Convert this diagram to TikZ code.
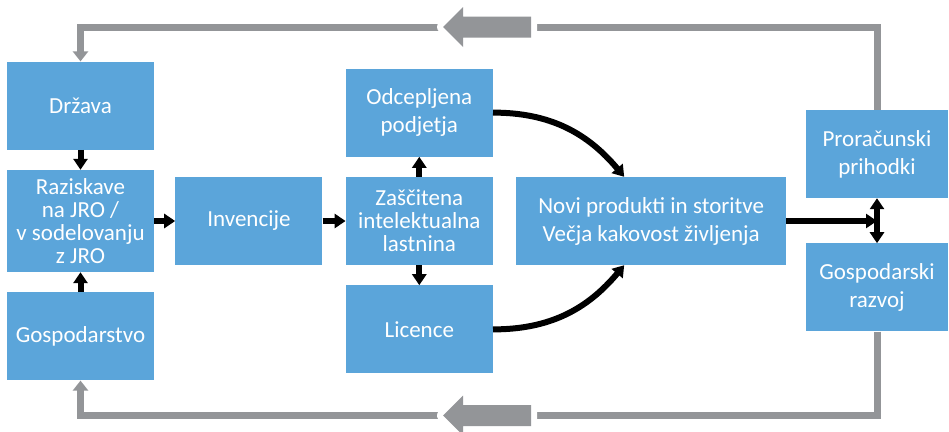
\documentclass[tikz,border=0pt]{standalone}
\usepackage{fontspec}
\setmainfont{Carlito}
\usetikzlibrary{arrows.meta, positioning}
\definecolor{boxblue}{RGB}{91,165,218}
\definecolor{loopgray}{RGB}{147,149,152}

\begin{document}
\begin{tikzpicture}[
    x=1pt, y=1pt,
    node distance = 20pt,
    box/.style = {
        rectangle,
        fill=boxblue,
        minimum width=147pt,
        minimum height=88pt,
        inner sep=0pt,
        align=center,
        text=white,
        font=\fontsize{23}{23}\selectfont
    },
    tall/.style = {box, minimum height=102pt},
    twoline/.style = {font=\fontsize{23}{28}\selectfont},
    flow/.style = {-{Triangle[length=11pt, width=14pt]}, line width=6pt, black},
    loop/.style = {-{Triangle[length=10pt, width=15pt]}, line width=7pt, loopgray},
    bigarrow/.style = {fill=loopgray, preaction={draw=white, line width=12pt, line join=round}}
]

\useasboundingbox (0,0) rectangle (949,-431);

%% Research chain
\node[tall] (raz) at (80.5,-221) {Raziskave\\na JRO /\\v sodelovanju\\z JRO};
\node[box, above=of raz] (drz) {Država};
\node[box, below=of raz] (gos) {Gospodarstvo};
\node[box, right=21pt of raz] (inv) {Invencije};
\node[box, right=23pt of inv] (zas) {Zaščitena\\intelektualna\\lastnina};
\node[box, twoline, above=of zas] (odc) {Odcepljena\\podjetja};
\node[box, below=of zas] (lic) {Licence};
\node[box, twoline, minimum width=270pt, right=23pt of zas] (novi) {Novi produkti in storitve\\Večja kakovost življenja};

%% Outcomes
\node[box, twoline, minimum width=142pt] (pro) at (877,-154) {Proračunski\\prihodki};
\node[box, twoline, minimum width=142pt, below=45pt of pro] (gsr) {Gospodarski\\razvoj};

%% Arrows between boxes
\draw[flow] (drz) -- (raz);
\draw[flow] (gos) -- (raz);
\draw[flow] (raz) -- (inv);
\draw[flow] (inv) -- (zas);
\draw[flow] (zas) -- (odc);
\draw[flow] (zas) -- (lic);
\draw[flow] (odc.east) to[out=0, in=130] ([xshift=-27pt]novi.north);
\draw[flow] (lic.east) to[out=0, in=-130] ([xshift=-27pt]novi.south);
\coordinate (jn) at (novi.east -| pro.south);
\draw[flow] (novi.east) -- (jn);
\draw[flow] (jn) -- (pro.south);
\draw[flow] (jn) -- (gsr.north);

%% Feedback loops
\coordinate (topy) at (0,-27);
\coordinate (boty) at (0,-415.5);
\draw[loop] (pro.north) |- (topy -| drz.north) -- (drz.north);
\draw[loop] (gsr.south) |- (boty -| gos.south) -- (gos.south);
\foreach \ypos in {-27,-415.5}
    \fill[bigarrow, shift={(0,\ypos)}] (443,0) -- (463,20) -- (463,10.5) -- (531,10.5)
        -- (531,-10.5) -- (463,-10.5) -- (463,-20) -- cycle;

\end{tikzpicture}
\end{document}
